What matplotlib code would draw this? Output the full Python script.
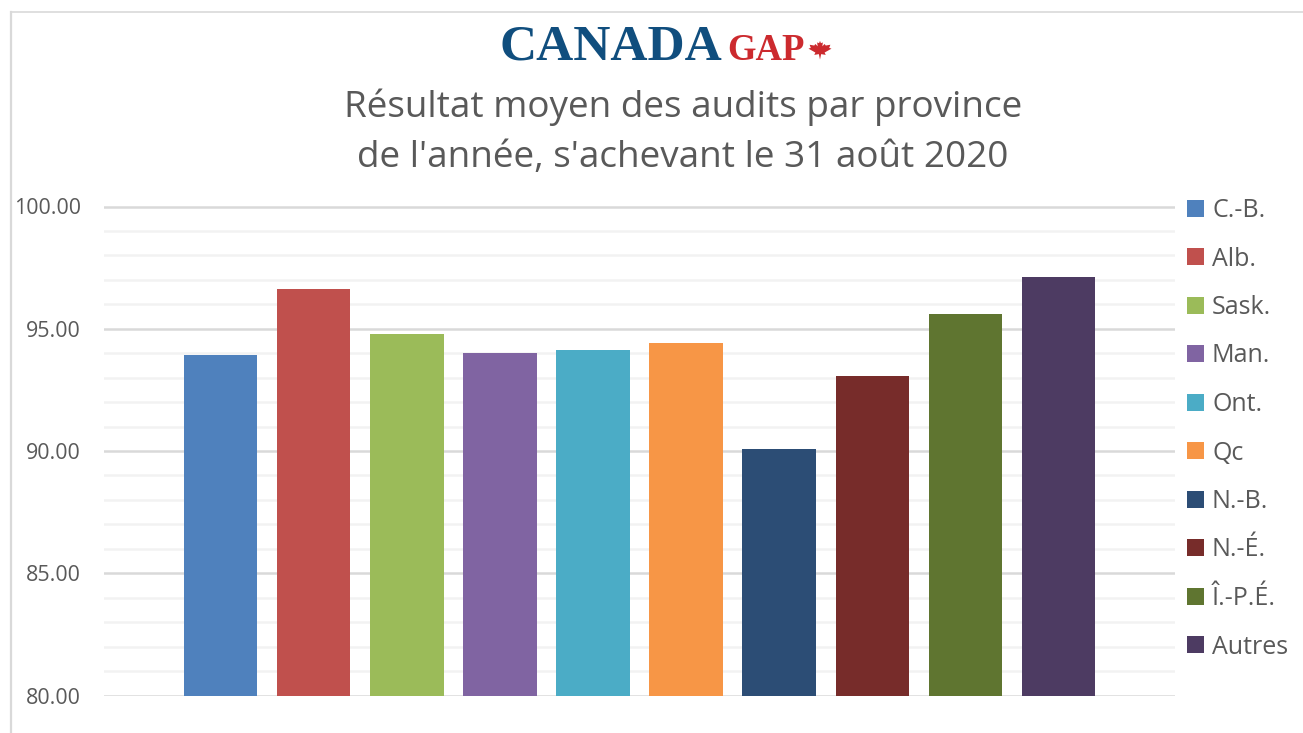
import matplotlib.pyplot as plt
from matplotlib.lines import Line2D
from matplotlib.patches import Patch, Polygon

provinces = ["C.-B.", "Alb.", "Sask.", "Man.", "Ont.", "Qc", "N.-B.", "N.-É.", "Î.-P.É.", "Autres"]
scores = [93.93, 96.63, 94.79, 94.00, 94.13, 94.42, 90.08, 93.07, 95.60, 97.12]
colors = ["#4f81bd", "#c0504d", "#9bbb59", "#8064a2", "#4bacc6",
          "#f79646", "#2c4d75", "#772c2a", "#5f7530", "#4d3b62"]
yticks = [80, 85, 90, 95, 100]
minor_ticks = [81, 82, 83, 84, 86, 87, 88, 89, 91, 92, 93, 94, 96, 97, 98, 99]
title = "Résultat moyen des audits par province\nde l'année, s'achevant le 31 août 2020"

W, H = 1303, 733
TEXT = "#595959"
FONT = "Open Sans"

fig = plt.figure(figsize=(W / 100, H / 100), dpi=100)
ax = fig.add_axes([104 / W, 1 - 695.5 / H, (1175 - 104) / W, (695.5 - 206.5) / H])

for y in minor_ticks:
    ax.axhline(y, color="#f2f2f2", lw=1.8, zorder=1)
for y in yticks:
    ax.axhline(y, color="#d9d9d9", lw=1.8, zorder=1)

for i in range(len(scores)):
    ax.bar(i, scores[i], width=0.79, color=colors[i], zorder=2)

ax.set_xlim(-1.251, 10.25)
ax.set_ylim(80, 100)
ax.set_xticks([])
ax.set_yticks(yticks, [f"{y:.2f}" for y in yticks])
ax.tick_params(axis="y", length=0, pad=16.5, labelsize=15.4, labelcolor=TEXT)
for lab in ax.get_yticklabels():
    lab.set_family(FONT)
for s in ax.spines.values():
    s.set_visible(False)

handles = [Patch(facecolor=c, edgecolor="none") for c in colors]
fig.legend(handles, provinces, loc="upper left", bbox_to_anchor=(1187 / W, 1 - 198 / H),
           frameon=False, ncol=1, handlelength=0.68, handleheight=0.68, handletextpad=0.32,
           labelspacing=0.94, borderpad=0, borderaxespad=0,
           prop={"family": FONT, "size": 18}, labelcolor=TEXT)

fig.text(683 / W, 1 - 132 / H, title, ha="center", va="center", color=TEXT,
         family=FONT, fontsize=26.6, linespacing=1.52)

# logo
fig.text(499 / W, 1 - 60 / H, "CANADA", ha="left", va="baseline", color="#104e7e",
         family="Liberation Serif", weight="bold", fontsize=37)
fig.text(727 / W, 1 - 60 / H, "GAP", ha="left", va="baseline", color="#cc2a2e",
         family="Liberation Serif", weight="bold", fontsize=26.5)
leaf = [(0, -11), (1, -4), (5, -5), (4, -2), (10, 3), (8, 4), (9, 8), (5, 7), (4, 9),
        (2, 6), (2.5, 11), (0.8, 10), (0, 13), (-0.8, 10), (-2.5, 11), (-2, 6), (-4, 9),
        (-5, 7), (-9, 8), (-8, 4), (-10, 3), (-4, -2), (-5, -5), (-1, -4)]
fig.add_artist(Polygon([((820 + 1.15 * x) / W, 1 - (51 - 0.78 * y) / H) for x, y in leaf],
                       closed=True, facecolor="#cc2a2e", edgecolor="none",
                       transform=fig.transFigure))

# frame of the screenshot
fig.add_artist(Line2D([11 / W, 11 / W], [0, 1 - 11.5 / H], color="#d9d9d9", lw=1.6))
fig.add_artist(Line2D([11 / W, 1], [1 - 11.5 / H, 1 - 11.5 / H], color="#d9d9d9", lw=1.2))

fig.savefig("out.png", dpi=100)
